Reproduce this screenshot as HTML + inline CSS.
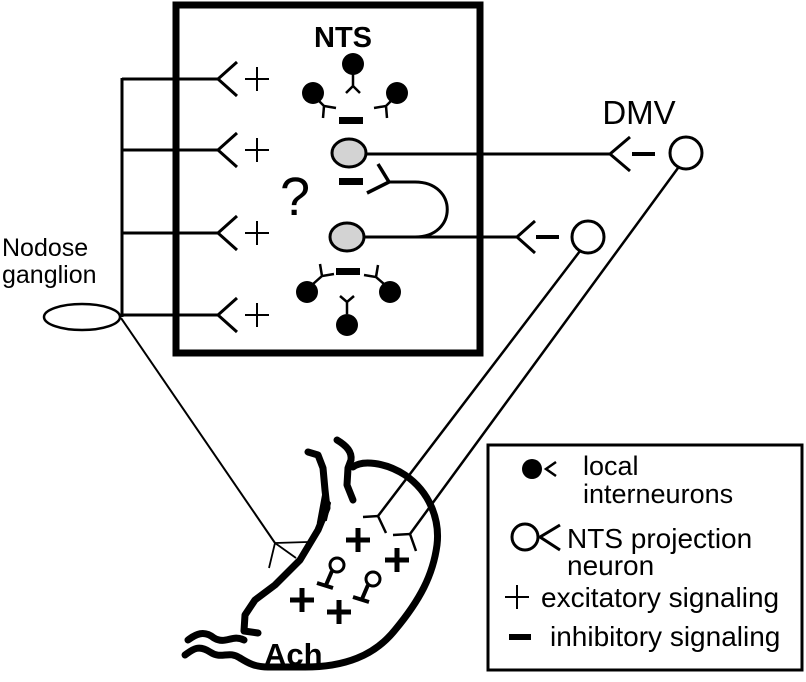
<!DOCTYPE html>
<html><head><style>
html,body{margin:0;padding:0;background:#fff;}
svg{display:block;}
text{font-family:"Liberation Sans",Arial,sans-serif;fill:#000;}
</style></head><body>
<svg width="806" height="682" viewBox="0 0 806 682" xmlns="http://www.w3.org/2000/svg">
<g fill="none" stroke="#000" stroke-width="3" stroke-linecap="butt">
  <rect x="176" y="5" width="304" height="348" stroke-width="7"/>
  <line x1="122" y1="78" x2="122" y2="317"/>
  <line x1="122" y1="79" x2="218" y2="79"/>
  <line x1="122" y1="150" x2="218" y2="150"/>
  <line x1="122" y1="233" x2="218" y2="233"/>
  <line x1="120" y1="315" x2="218" y2="315"/>
  <path d="M237 62 L218 79 L237 96"/>
  <path d="M237 133 L218 150 L237 167"/>
  <path d="M237 216 L218 233 L237 250"/>
  <path d="M237 298 L218 315 L237 332"/>
  <g stroke-width="2">
    <path d="M245 79 H269 M257 67 V91"/>
    <path d="M245 150 H269 M257 138 V162"/>
    <path d="M245 233 H269 M257 221 V245"/>
    <path d="M245 315 H269 M257 303 V327"/>
  </g>
  <ellipse cx="82" cy="317" rx="38" ry="13" stroke-width="2.5"/>
  <line x1="121" y1="318" x2="275" y2="543" stroke-width="2"/>
  <g stroke-width="1.8">
    <path d="M275 543 L308 542 M275 543 L296 558 M275 543 L269 568"/>
  </g>
  <line x1="366" y1="154" x2="610" y2="154"/>
  <path d="M630 137 L610 154 L630 171"/>
  <line x1="632" y1="154" x2="655" y2="154" stroke-width="4"/>
  <circle cx="686" cy="153" r="16" stroke-width="3"/>
  <path d="M364 237 L415 237 C458 237 458 182 415 182 L389 182"/>
  <path d="M378 164 L389 182 L367 193" stroke-width="3.5"/>
  <line x1="364" y1="237" x2="517" y2="237"/>
  <path d="M535 221 L517 237 L535 253"/>
  <line x1="536" y1="237" x2="559" y2="237" stroke-width="4"/>
  <circle cx="588" cy="237" r="16" stroke-width="3"/>
  <line x1="580" y1="251" x2="378" y2="516" stroke-width="2.5"/>
  <line x1="678" y1="168" x2="410" y2="534" stroke-width="2.5"/>
  <path d="M363 517 L378 516 L386 533" stroke-width="2.5"/>
  <path d="M393 535 L410 534 L416 551" stroke-width="2.5"/>
  <g stroke-width="2.5">
    <path d="M353 74 V86 M346 93 L353 86 L360 93"/>
    <path d="M318 100 L324 106 L336 108 M324 106 L323 118"/>
    <path d="M392 100 L386 106 L374 108 M386 106 L387 118"/>
    <path d="M313 284 L322 276 L334 274 M322 276 L320 264"/>
    <path d="M384 284 L376 277 L364 275 M376 277 L378 265"/>
    <path d="M347 314 V302 M340 296 L347 302 L354 296"/>
  </g>
  <rect x="488" y="445" width="314" height="225" stroke-width="3"/>
  <path d="M556 462 L546 469 L556 476" stroke-width="2.5"/>
  <circle cx="525" cy="537" r="13" stroke-width="3"/>
  <path d="M560 525 L540 537 L560 550" stroke-width="3"/>
  <path d="M505 597 H529 M517 585 V609" stroke-width="2"/>
  <g stroke-width="7" stroke-linejoin="round" stroke-linecap="round">
    <path d="M308 452 L318 455 L323 468 L325 490 L327 508 L318 530 L300 560 L275 585 L255 600 L245 615 L244 631 L258 633"/>
    <path d="M337 440 C347 446 352 452 351 460 L348 468 L347 485 L353 500"/>
    <path d="M353 467 C362 460 385 462 405 475 C430 492 440 520 437 545 C433 575 420 600 395 630 C375 655 345 668 300 667 L268 667 C255 667 248 663 240 658"/>
    <path d="M240 658 C228 650 222 660 210 652 C198 644 192 650 185 655"/>
    <path d="M244 640 C232 634 226 645 214 638 C204 630 196 634 188 640"/>
  </g>
  <path d="M323 495 L330 503 L326 520 L318 522 Z" fill="#000" stroke-width="2"/>
  <g stroke-width="5">
    <path d="M346 540 H370 M358 528 V552"/>
    <path d="M385 560 H409 M397 548 V572"/>
    <path d="M290 600 H314 M302 588 V612"/>
    <path d="M327 612 H351 M339 600 V624"/>
  </g>
  <circle cx="337" cy="565" r="7" stroke-width="3"/>
  <path d="M332 571 L326 585 M317 583 L333 588" stroke-width="4"/>
  <circle cx="373" cy="579" r="7" stroke-width="3"/>
  <path d="M368 585 L362 599 M353 597 L369 602" stroke-width="4"/>
</g>
<g fill="#000">
  <circle cx="353" cy="64" r="11"/>
  <circle cx="313" cy="93" r="11"/>
  <circle cx="397" cy="93" r="11"/>
  <circle cx="307" cy="292" r="11"/>
  <circle cx="390" cy="292" r="11"/>
  <circle cx="347" cy="325" r="11"/>
  <rect x="339" y="117" width="24" height="7"/>
  <rect x="339" y="178" width="24" height="7"/>
  <rect x="336" y="268" width="24" height="7"/>
  <circle cx="532" cy="469" r="10"/>
  <rect x="509" y="634" width="22" height="6"/>
</g>
<ellipse cx="349" cy="153" rx="17" ry="14" fill="#d3d3d3" stroke="#000" stroke-width="3"/>
<ellipse cx="347" cy="237" rx="17" ry="14" fill="#d3d3d3" stroke="#000" stroke-width="3"/>
<text x="343" y="47" font-size="29" font-weight="bold" text-anchor="middle">NTS</text>
<text x="639" y="124" font-size="33" text-anchor="middle">DMV</text>
<text x="280" y="215" font-size="54">?</text>
<text x="2" y="256" font-size="25">Nodose</text>
<text x="2" y="283" font-size="25">ganglion</text>
<text x="264" y="665" font-size="31" font-weight="bold">Ach</text>
<text x="583" y="475" font-size="27">local</text>
<text x="583" y="503" font-size="27">interneurons</text>
<text x="567" y="548" font-size="28">NTS projection</text>
<text x="567" y="575" font-size="28">neuron</text>
<text x="541" y="607" font-size="28">excitatory signaling</text>
<text x="550" y="646" font-size="28">inhibitory signaling</text>
</svg>
</body></html>
